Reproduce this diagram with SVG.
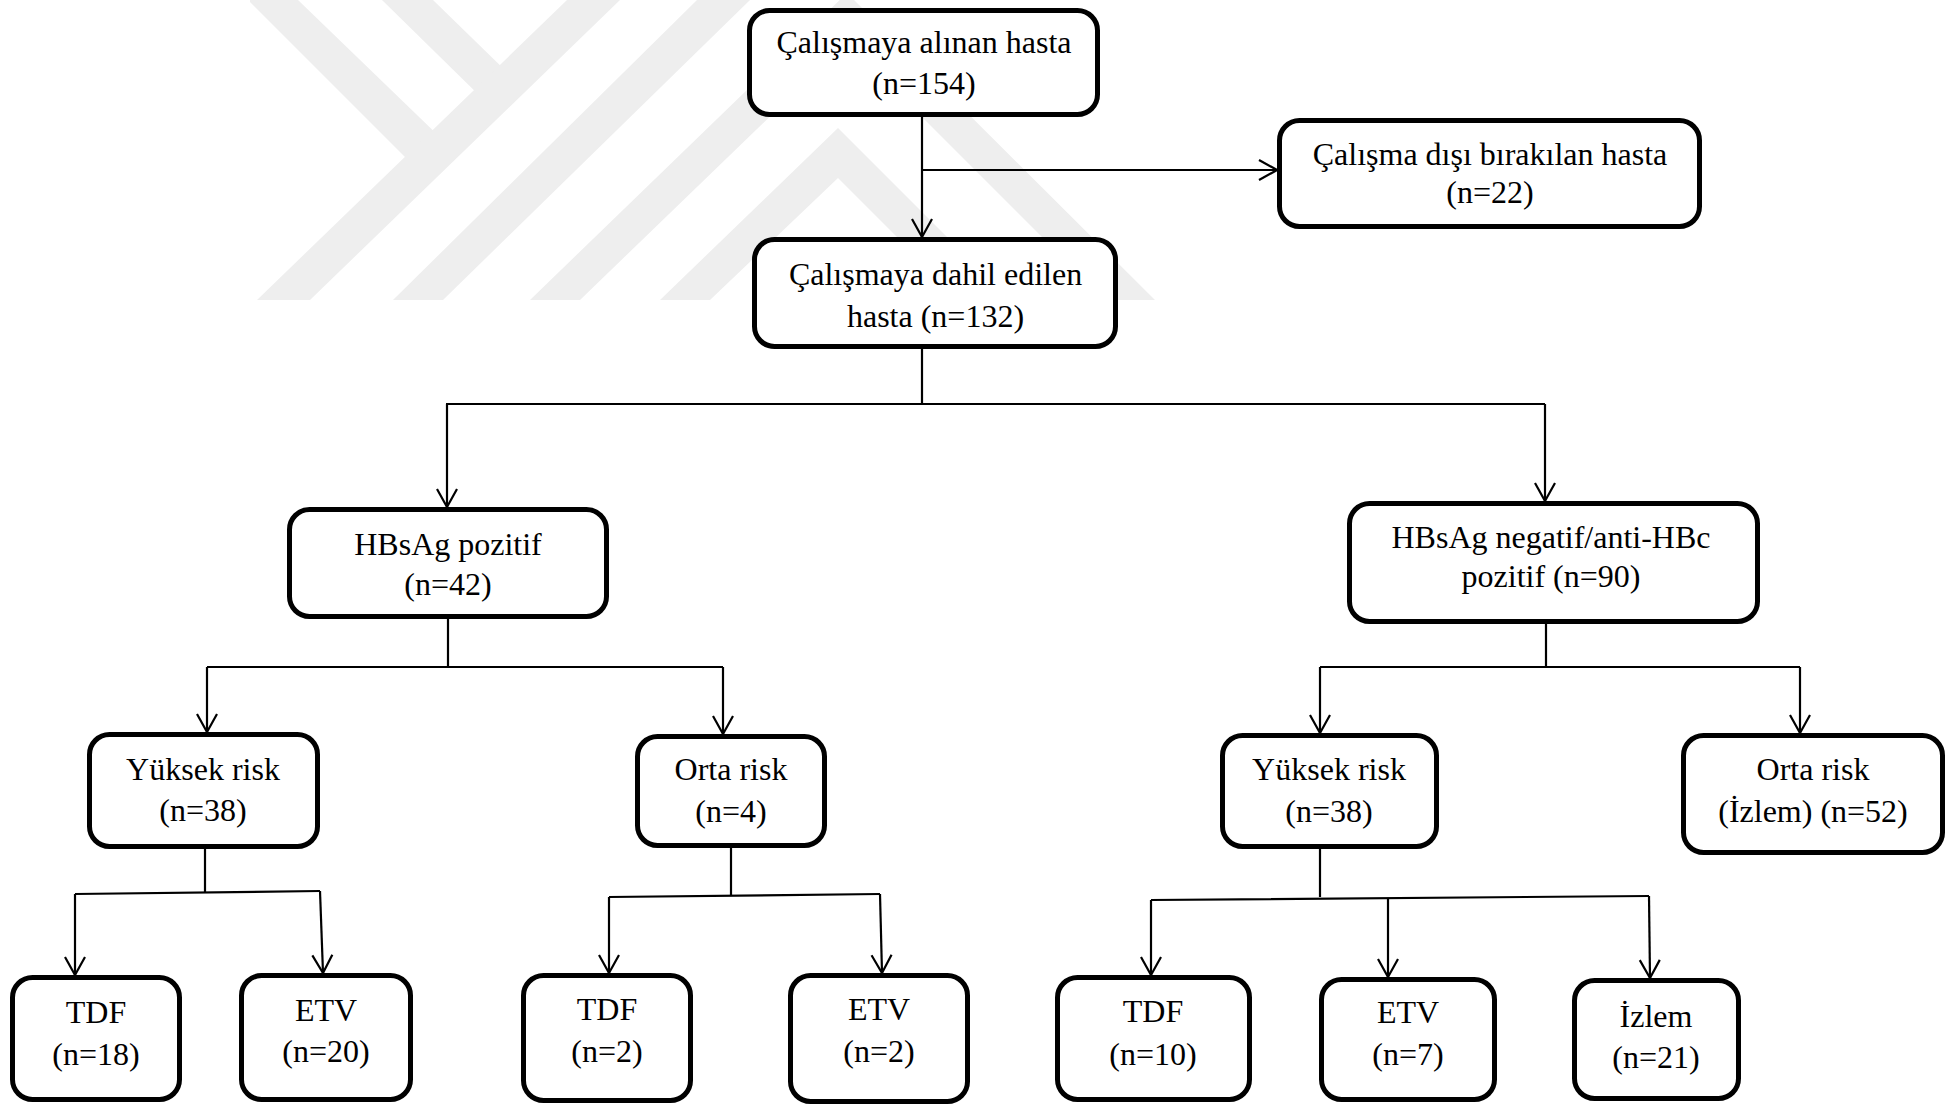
<svg xmlns="http://www.w3.org/2000/svg" width="1950" height="1106" viewBox="0 0 1950 1106">
<defs>
<style>
.box{fill:#ffffff;stroke:#000000;stroke-width:5}
.t{font-family:"Liberation Serif","Times New Roman",serif;font-size:32px;fill:#000000;text-anchor:middle}
.c{fill:none;stroke:#000000;stroke-width:2.2}
.wm{fill:#eeeeee;stroke:none}
</style>
<marker id="ah" markerUnits="userSpaceOnUse" viewBox="-20 -12 22 24" markerWidth="22" markerHeight="24" refX="0" refY="0" orient="auto">
<path d="M-18,-10 L0,0 L-18,10" fill="none" stroke="#000000" stroke-width="2.2"/>
</marker>
</defs>
<rect width="1950" height="1106" fill="#ffffff"/>
<g id="watermark">
<polygon class="wm" points="250,0 298,0 446,143 418,170 250,2"/>
<polygon class="wm" points="382,0 433,0 513,78 487,103"/>
<polygon class="wm" points="567,0 620,0 310,300 257,300"/>
<polygon class="wm" points="697,0 750,0 443,300 393,300"/>
<polygon class="wm" points="530,300 847,-7 1155,300 1105,300 847,42 580,300"/>
<polygon class="wm" points="660,300 838,128 1010,300 960,300 838,178 710,300"/>
</g>
<g id="connectors">
<path class="c" d="M922,117 V237" marker-end="url(#ah)"/>
<path class="c" d="M922,170 H1277" marker-end="url(#ah)"/>
<path class="c" d="M922,349 V404 M446,404 H1545"/>
<path class="c" d="M447,404 V507" marker-end="url(#ah)"/>
<path class="c" d="M1545,404 V501" marker-end="url(#ah)"/>
<path class="c" d="M448,619 V667 M207,667 H723"/>
<path class="c" d="M207,667 V732" marker-end="url(#ah)"/>
<path class="c" d="M723,667 V734" marker-end="url(#ah)"/>
<path class="c" d="M1546,624 V667 M1320,667 H1800"/>
<path class="c" d="M1320,667 V733" marker-end="url(#ah)"/>
<path class="c" d="M1800,667 V733" marker-end="url(#ah)"/>
<path class="c" d="M205,849 V892 M75,894 L320,891"/>
<path class="c" d="M75,894 V975" marker-end="url(#ah)"/>
<path class="c" d="M320,891 L323,973" marker-end="url(#ah)"/>
<path class="c" d="M731,848 V895 M609,897 L880,894"/>
<path class="c" d="M609,897 V973" marker-end="url(#ah)"/>
<path class="c" d="M880,894 L882,973" marker-end="url(#ah)"/>
<path class="c" d="M1320,849 V897 M1151,900 L1649,896"/>
<path class="c" d="M1151,900 V975" marker-end="url(#ah)"/>
<path class="c" d="M1388,898 V977" marker-end="url(#ah)"/>
<path class="c" d="M1649,896 L1650,978" marker-end="url(#ah)"/>
</g>
<g id="n-alinan"><rect class="box" x="749.5" y="10.5" width="348" height="104" rx="20"/><text class="t" x="924" y="53">Çalışmaya alınan hasta</text><text class="t" x="924" y="94">(n=154)</text></g>
<g id="n-dahil"><rect class="box" x="754.5" y="239.5" width="361" height="107" rx="20"/><text class="t" x="935.5" y="285">Çalışmaya dahil edilen</text><text class="t" x="935.5" y="327">hasta (n=132)</text></g>
<g id="n-disi"><rect class="box" x="1279.5" y="120.5" width="420" height="106" rx="20"/><text class="t" x="1490" y="165">Çalışma dışı bırakılan hasta</text><text class="t" x="1490" y="203">(n=22)</text></g>
<g id="n-hbsag-poz"><rect class="box" x="289.5" y="509.5" width="317" height="107" rx="20"/><text class="t" x="448" y="555">HBsAg pozitif</text><text class="t" x="448" y="595">(n=42)</text></g>
<g id="n-hbsag-neg"><rect class="box" x="1349.5" y="503.5" width="408" height="118" rx="20"/><text class="t" x="1551" y="548">HBsAg negatif/anti-HBc</text><text class="t" x="1551" y="587">pozitif (n=90)</text></g>
<g id="n-yuksek1"><rect class="box" x="89.5" y="734.5" width="228" height="112" rx="20"/><text class="t" x="203" y="780">Yüksek risk</text><text class="t" x="203" y="821">(n=38)</text></g>
<g id="n-orta1"><rect class="box" x="637.5" y="736.5" width="187" height="109" rx="20"/><text class="t" x="731" y="780">Orta risk</text><text class="t" x="731" y="822">(n=4)</text></g>
<g id="n-yuksek2"><rect class="box" x="1222.5" y="735.5" width="214" height="111" rx="20"/><text class="t" x="1329" y="780">Yüksek risk</text><text class="t" x="1329" y="822">(n=38)</text></g>
<g id="n-orta2"><rect class="box" x="1683.5" y="735.5" width="259" height="117" rx="20"/><text class="t" x="1813" y="780">Orta risk</text><text class="t" x="1813" y="822">(İzlem) (n=52)</text></g>
<g id="n-tdf1"><rect class="box" x="12.5" y="977.5" width="167" height="122" rx="20"/><text class="t" x="96" y="1023">TDF</text><text class="t" x="96" y="1065">(n=18)</text></g>
<g id="n-etv1"><rect class="box" x="241.5" y="975.5" width="169" height="124" rx="20"/><text class="t" x="326" y="1021">ETV</text><text class="t" x="326" y="1062">(n=20)</text></g>
<g id="n-tdf2"><rect class="box" x="523.5" y="975.5" width="167" height="125" rx="20"/><text class="t" x="607" y="1020">TDF</text><text class="t" x="607" y="1062">(n=2)</text></g>
<g id="n-etv2"><rect class="box" x="790.5" y="975.5" width="177" height="126" rx="20"/><text class="t" x="879" y="1020">ETV</text><text class="t" x="879" y="1062">(n=2)</text></g>
<g id="n-tdf3"><rect class="box" x="1057.5" y="977.5" width="192" height="122" rx="20"/><text class="t" x="1153" y="1022">TDF</text><text class="t" x="1153" y="1065">(n=10)</text></g>
<g id="n-etv3"><rect class="box" x="1321.5" y="979.5" width="173" height="120" rx="20"/><text class="t" x="1408" y="1023">ETV</text><text class="t" x="1408" y="1065">(n=7)</text></g>
<g id="n-izlem"><rect class="box" x="1574.5" y="980.5" width="164" height="118" rx="20"/><text class="t" x="1656" y="1027">İzlem</text><text class="t" x="1656" y="1068">(n=21)</text></g>
</svg>
